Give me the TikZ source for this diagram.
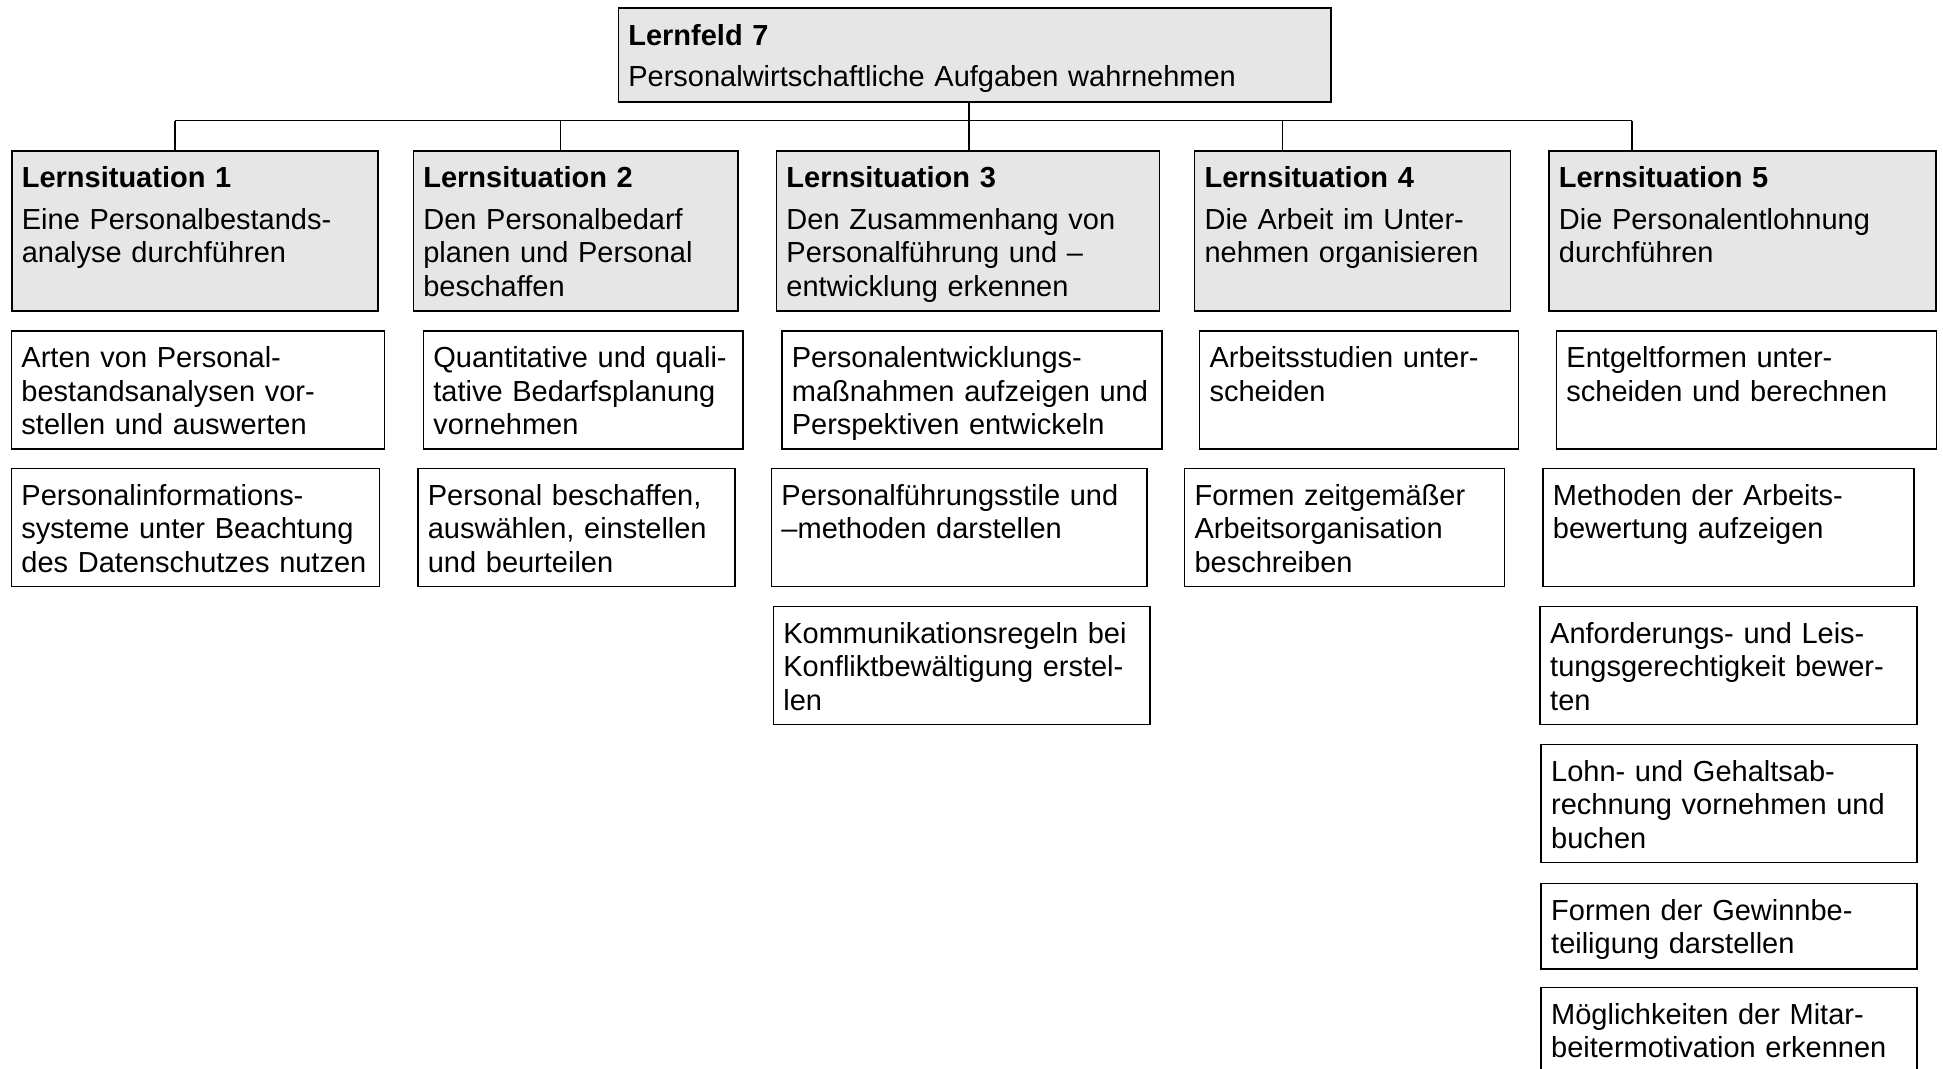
\documentclass[tikz,border=0pt]{standalone}
\usepackage{fontspec}
\setmainfont{Liberation Sans}
\definecolor{lfgray}{HTML}{E6E6E6}
\tikzset{
  cell/.style={draw=black,line width=0.035cm,anchor=north west,align=left,inner xsep=0.2cm,inner ysep=0pt,text height=0.74cm,font=\fontsize{16.5pt}{18.95pt}\selectfont},
  field/.style={cell,fill=lfgray,text depth=1.13cm},
  head/.style={cell,fill=lfgray,text depth=2.46cm},
  item/.style={cell,fill=white,text depth=1.62cm},
  short/.style={cell,fill=white,text depth=0.97cm},
  link/.style={draw=black,line width=0.03cm},
}
\newcommand{\titlegap}{\\[0.168cm]}

\begin{document}
\begin{tikzpicture}[x=0.02cm,y=-0.02cm]
  \useasboundingbox (0,0) rectangle (1943,1068);
  % Lernfeld
  \node[field,text width=13.85cm] (lf) at (617.5,7.3) {\textbf{Lernfeld 7}\titlegap Personalwirtschaftliche Aufgaben wahrnehmen};
  % Lernsituationen
  \node[head,text width=6.93cm] (ls1) at (11,150) {\textbf{Lernsituation 1}\titlegap Eine Personalbestands-\\analyse durchführen};
  \node[head,text width=6.1cm] (ls2) at (412.5,150) {\textbf{Lernsituation 2}\titlegap Den Personalbedarf\\planen und Personal\\beschaffen};
  \node[head,text width=7.26cm] (ls3) at (775.6,150) {\textbf{Lernsituation 3}\titlegap Den Zusammenhang von\\Personalführung und –\\entwicklung erkennen};
  \node[head,text width=5.92cm] (ls4) at (1193.7,150) {\textbf{Lernsituation 4}\titlegap Die Arbeit im Unter-\\nehmen organisieren};
  \node[head,text width=7.35cm] (ls5) at (1548,150) {\textbf{Lernsituation 5}\titlegap Die Personalentlohnung\\durchführen};
  % connectors
  \foreach \i/\x in {1/175,2/560.6,3/969,4/1282.5,5/1632}{
    \coordinate (j\i) at (\x,120.7);
    \draw[link] (j\i) -- (j\i |- ls\i.north);
  }
  \draw[link] (j1) -- (j5);
  \draw[link] (lf.south -| j3) -- (j3);
  % column 1
  \node[item,text width=7.06cm] (a1) at (10.6,330) {Arten von Personal-\\bestandsanalysen vor-\\stellen und auswerten};
  \node[item,text width=6.96cm] (b1) at (10.6,467.7) {Personalinformations-\\systeme unter Beachtung\\des Datenschutzes nutzen};
  % column 2
  \node[item,text width=5.99cm] (a2) at (422.5,330) {Quantitative und quali-\\tative Bedarfsplanung\\vornehmen};
  \node[item,text width=5.95cm] (b2) at (417,467.7) {Personal beschaffen,\\auswählen, einstellen\\und beurteilen};
  % column 3
  \node[item,text width=7.2cm] (a3) at (781,330) {Personalentwicklungs-\\maßnahmen aufzeigen und\\Perspektiven entwickeln};
  \node[item,text width=7.11cm] (b3) at (770.6,467.7) {Personalführungsstile und\\–methoden darstellen};
  \node[item,text width=7.14cm] (c3) at (772.5,605.7) {Kommunikationsregeln bei\\Konfliktbewältigung erstel-\\len};
  % column 4
  \node[item,text width=5.98cm] (a4) at (1198.7,330) {Arbeitsstudien unter-\\scheiden};
  \node[item,text width=6cm] (b4) at (1183.7,467.7) {Formen zeitgemäßer\\Arbeitsorganisation\\beschreiben};
  % column 5
  \node[item,text width=7.2cm] (a5) at (1555.6,330) {Entgeltformen unter-\\scheiden und berechnen};
  \node[item,text width=7.02cm] (b5) at (1542,467.7) {Methoden der Arbeits-\\bewertung aufzeigen};
  \node[item,text width=7.14cm] (c5) at (1539.3,605.7) {Anforderungs- und Leis-\\tungsgerechtigkeit bewer-\\ten};
  \node[item,text width=7.12cm] (d5) at (1540.3,743.7) {Lohn- und Gehaltsab-\\rechnung vornehmen und\\buchen};
  \node[short,text width=7.12cm] (e5) at (1540.3,882.7) {Formen der Gewinnbe-\\teiligung darstellen};
  \node[short,text width=7.12cm] (f5) at (1540.3,986.7) {Möglichkeiten der Mitar-\\beitermotivation erkennen};
\end{tikzpicture}
\end{document}
